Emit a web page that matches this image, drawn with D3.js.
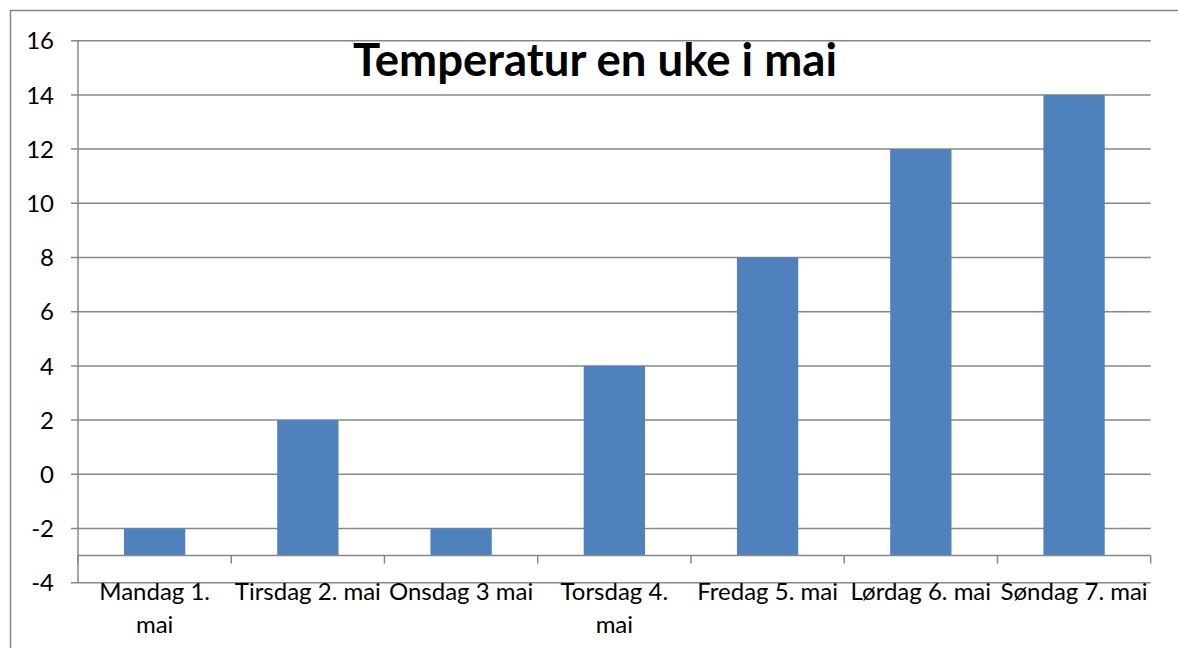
<!DOCTYPE html>
<html>
<head>
<meta charset="utf-8">
<script src="https://cdn.jsdelivr.net/npm/d3@7"></script>
<style>
  html, body { margin: 0; padding: 0; background: #fff; }
  svg { display: block; }
  text { font-family: Lato, "Open Sans", sans-serif; fill: #000; }
</style>
</head>
<body>
<svg id="chart" width="1178" height="648"></svg>
<script>
// ---- data ----
const categories = ["Mandag 1.\nmai", "Tirsdag 2. mai", "Onsdag 3 mai", "Torsdag 4.\nmai", "Fredag 5. mai", "Lørdag 6. mai", "Søndag 7. mai"];
const temperatures = [-2, 2, -2, 4, 8, 12, 14];
const yTicks = [-4, -2, 0, 2, 4, 6, 8, 10, 12, 14, 16];
const title = "Temperatur en uke i mai";
const axisCross = -3;

// ---- layout ----
const W = 1178, H = 648;
const plot = { left: 78, right: 1150.7, top: 40.7, bottom: 582.7 };
const gridColor = "#878787";
const barColor = "#4F81BD";

const svg = d3.select("#chart");

// outer chart border
svg.append("rect")
  .attr("x", 10.5).attr("y", 10.5)
  .attr("width", 1300).attr("height", 800)
  .attr("fill", "#fff").attr("stroke", gridColor).attr("stroke-width", 1.5);

const y = d3.scaleLinear().domain([-4, 16]).range([plot.bottom, plot.top]);
const x = d3.scaleBand().domain(categories).range([plot.left, plot.right])
  .paddingInner(0.6).paddingOuter(0.3);

// horizontal gridlines + left tick marks
svg.append("g").selectAll("line").data(yTicks).join("line")
  .attr("x1", plot.left - 7).attr("x2", plot.right)
  .attr("y1", d => y(d)).attr("y2", d => y(d))
  .attr("stroke", gridColor).attr("stroke-width", 1.5);

// bars (from axis crossing at -3)
svg.append("g").selectAll("rect").data(temperatures).join("rect")
  .attr("x", (d, i) => x(categories[i]))
  .attr("width", x.bandwidth())
  .attr("y", d => Math.min(y(d), y(axisCross)))
  .attr("height", d => Math.abs(y(axisCross) - y(d)))
  .attr("fill", barColor);

// value axis line
svg.append("line")
  .attr("x1", plot.left).attr("x2", plot.left)
  .attr("y1", y(16)).attr("y2", y(-4))
  .attr("stroke", gridColor).attr("stroke-width", 1.5);

// y tick labels
svg.append("g").selectAll("text").data(yTicks).join("text")
  .attr("x", 54).attr("y", d => y(d))
  .attr("dy", "0.36em")
  .attr("text-anchor", "end")
  .style("font-size", "24px")
  .text(d => d);

// category axis line at -3
const yc = y(axisCross);
svg.append("line")
  .attr("x1", plot.left).attr("x2", plot.right)
  .attr("y1", yc).attr("y2", yc)
  .attr("stroke", gridColor).attr("stroke-width", 1.5);

// category boundary ticks
const step = x.step();
const bounds = d3.range(categories.length + 1).map(i => plot.left + i * step);
svg.append("g").selectAll("line").data(bounds).join("line")
  .attr("x1", d => d).attr("x2", d => d)
  .attr("y1", yc).attr("y2", yc + 8)
  .attr("stroke", gridColor).attr("stroke-width", 1.5);

// category labels
const lab = svg.append("g").selectAll("text").data(categories).join("text")
  .attr("text-anchor", "middle")
  .style("font-size", "24px");
lab.each(function(d) {
  const t = d3.select(this);
  const cx = x(d) + x.bandwidth() / 2;
  d.split("\n").forEach((line, k) => {
    t.append("tspan").attr("x", cx).attr("y", 600 + k * 33).text(line);
  });
});

// title
svg.append("text")
  .attr("x", 595).attr("y", 76)
  .attr("text-anchor", "middle")
  .style("font-size", "45.5px").style("font-weight", "bold")
  .text(title);
</script>
</body>
</html>
